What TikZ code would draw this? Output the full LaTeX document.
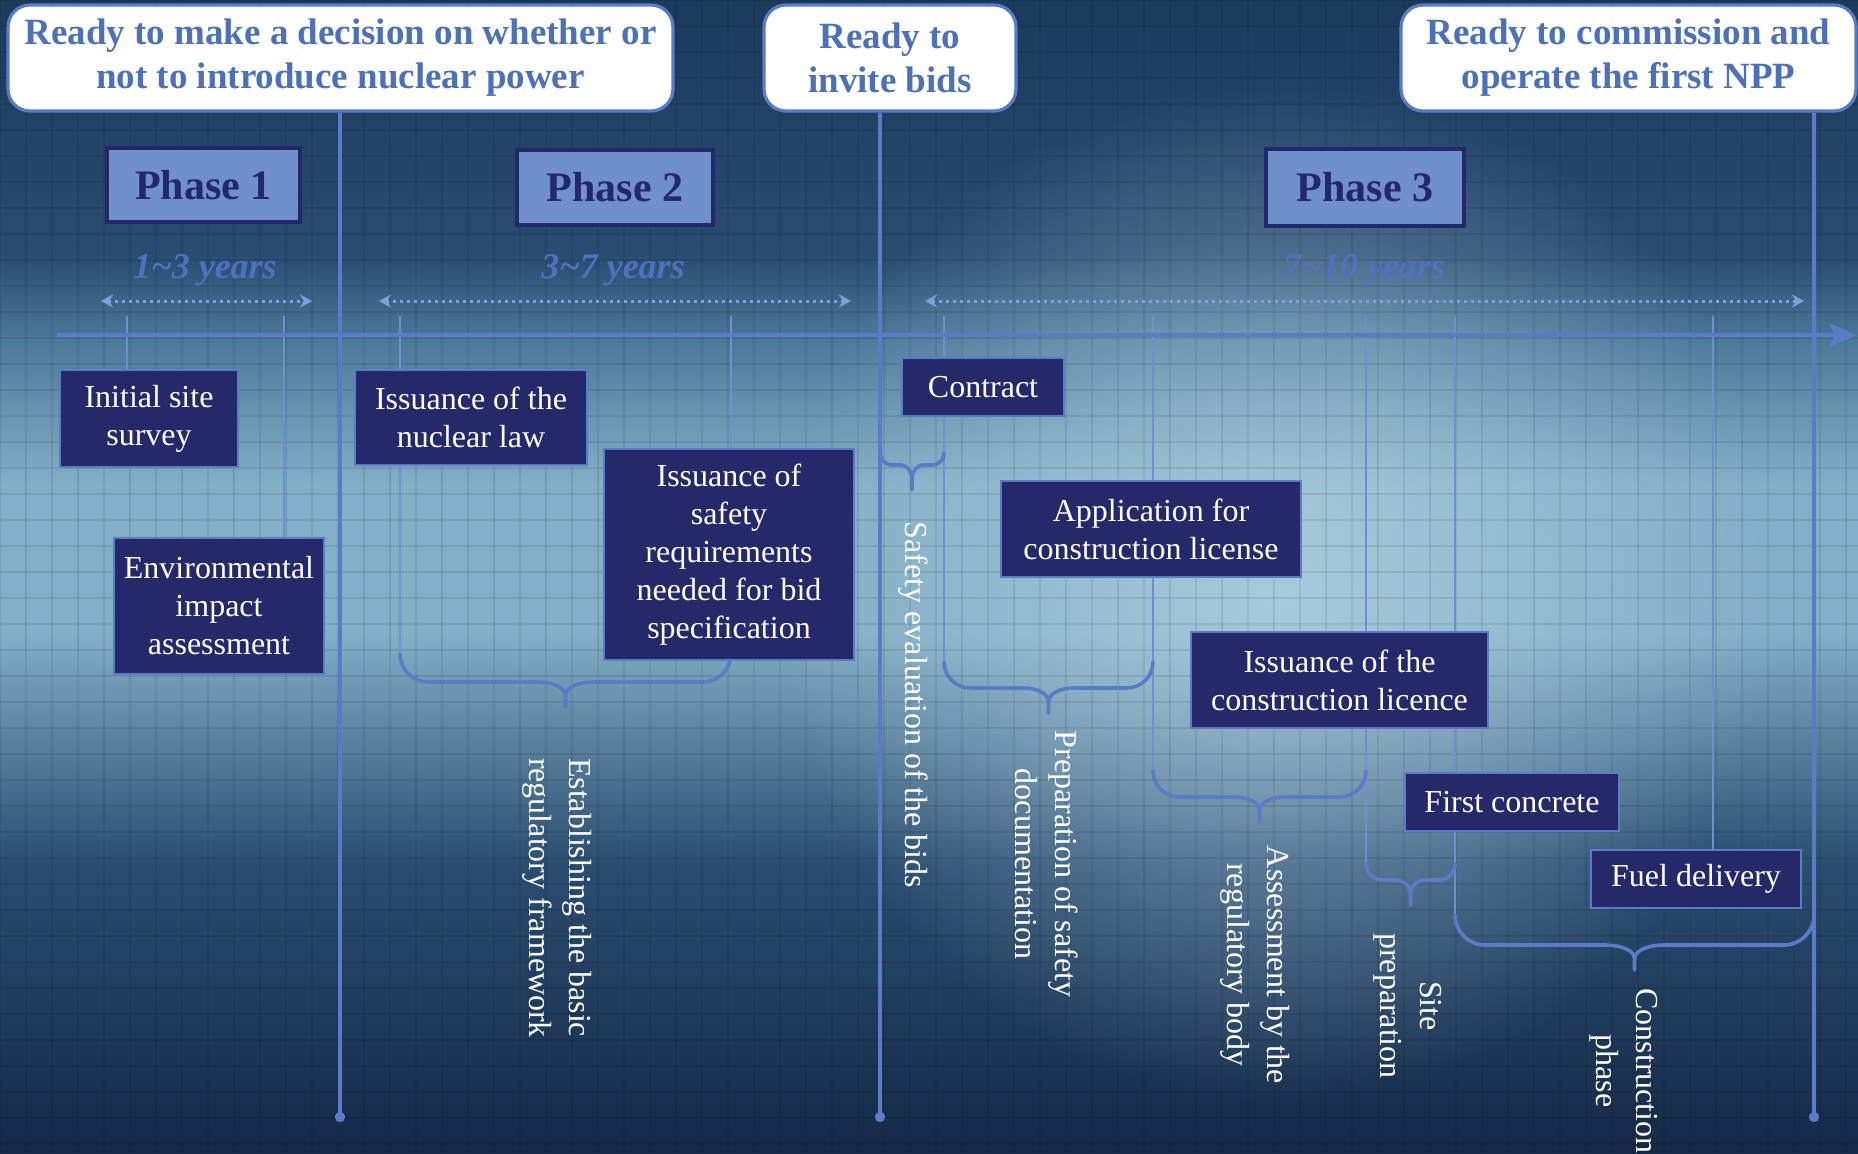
\documentclass[tikz,border=0pt]{standalone}
\usepackage{fontspec}
\setmainfont{Liberation Serif}
\usetikzlibrary{positioning, calc, arrows.meta, fadings}

\definecolor{bgtop}{HTML}{1B3A5C}
\definecolor{bgupper}{HTML}{294C70}
\definecolor{bgmid}{HTML}{4F7B9B}
\definecolor{bglight}{HTML}{82AEC6}
\definecolor{bglow}{HTML}{2A4D70}
\definecolor{bgbot}{HTML}{152947}
\definecolor{glowc}{HTML}{B8D5E4}
\definecolor{linec}{HTML}{5A7BC6}
\definecolor{tickc}{HTML}{6F8FD2}
\definecolor{spanc}{HTML}{809FDC}
\definecolor{evtc}{HTML}{25296A}
\definecolor{hdtext}{HTML}{4C71B8}
\definecolor{phfill}{HTML}{7090CA}
\definecolor{phdark}{HTML}{23286A}
\definecolor{yrtext}{HTML}{5071C0}

% path is mapped onto 25bp..75bp of the shading
\pgfdeclareverticalshading{bgshade}{100bp}{color(0bp)=(bgbot); color(25bp)=(bgbot);
  color(37.5bp)=(bglow); color(47.5bp)=(bglight); color(54bp)=(bglight); color(60bp)=(bgmid);
  color(64bp)=(bgupper); color(75bp)=(bgtop); color(100bp)=(bgtop)}

\pgfdeclarelayer{backdrop}
\pgfdeclarelayer{wires}
\pgfsetlayers{backdrop,wires,main}

\tikzfading[name=glowfade, inner color=transparent!30, outer color=transparent!100]

% curly brace under a span: left x, right x, bar y, corner radius
\newcommand{\curlybrace}[4]{%
  \draw[brc] (#1,#3-#4) .. controls (#1,#3-0.45*#4) and (#1+0.45*#4,#3) .. (#1+#4,#3)
    -- ({(#1+#2)/2-#4},#3) .. controls ({(#1+#2)/2-0.4*#4},#3) and ({(#1+#2)/2},#3+6) .. ({(#1+#2)/2},#3+14)
    -- ({(#1+#2)/2},#3+25);
  \draw[brc] (#2,#3-#4) .. controls (#2,#3-0.45*#4) and (#2-0.45*#4,#3) .. (#2-#4,#3)
    -- ({(#1+#2)/2+#4},#3) .. controls ({(#1+#2)/2+0.4*#4},#3) and ({(#1+#2)/2},#3+6) .. ({(#1+#2)/2},#3+14);
}

\begin{document}
\begin{tikzpicture}[x=0.5pt, y=-0.5pt,
    evtbox/.style={draw=linec, fill=evtc, text=white, line width=1.2pt, align=center,
      inner sep=2pt, font=\fontsize{16}{19}\selectfont},
    hdbox/.style={draw=linec, fill=white, text=hdtext, line width=1.6pt, rounded corners=11pt,
      align=center, font=\bfseries\fontsize{18.5}{22}\selectfont},
    phasebox/.style={draw=phdark, fill=phfill, text=phdark, line width=2pt,
      font=\bfseries\fontsize{21}{25}\selectfont},
    yrs/.style={text=yrtext, font=\bfseries\itshape\fontsize{18}{22}\selectfont},
    yrspan/.style={spanc, dotted, line width=1.5pt,
      {Stealth[length=6pt,width=6.5pt]}-{Stealth[length=6pt,width=6.5pt]}},
    milestone/.style={linec, line width=2.2pt},
    tickln/.style={tickc, line width=1.3pt},
    brc/.style={linec, line width=1.8pt, line cap=round},
    vlab/.style={text=white, rotate=-90, align=center, font=\fontsize{16}{20}\selectfont},
    gridln/.style={black, opacity=0.08, line width=0.8pt}]

    \useasboundingbox (0,0) rectangle (1858,1153);
    \clip (0,0) rectangle (1858,1153);

    % --- BACKGROUND ---
    \begin{pgfonlayer}{backdrop}
        \shade[shading=bgshade] (0,0) rectangle (1858,1153);
        \fill[glowc, path fading=glowfade] (780,80) rectangle (1780,1100);
        \foreach \gx in {0,26,...,1858} \draw[gridln] (\gx,0) -- (\gx,1153);
        \foreach \gy in {0,26,...,1153} \draw[gridln] (0,\gy) -- (1858,\gy);
    \end{pgfonlayer}

    % --- MILESTONES ---
    \node[hdbox, minimum width=332.5pt, minimum height=53pt] (hdA) at (340.5,58)
        {Ready to make a decision on whether or\\not to introduce nuclear power};
    \node[hdbox, minimum width=126pt, minimum height=53pt] (hdB) at (890,58)
        {Ready to\\invite bids};
    \node[hdbox, minimum width=227.5pt, minimum height=53pt] (hdC) at (1628.5,58)
        {Ready to commission and\\operate the first NPP};

    % --- PHASES ---
    \node[phasebox, minimum width=96.5pt, minimum height=37pt] (ph1) at (203.5,185) {Phase 1};
    \node[phasebox, minimum width=98pt, minimum height=37.5pt] (ph2) at (615,187.5) {Phase 2};
    \node[phasebox, minimum width=99pt, minimum height=38.5pt] (ph3) at (1365,187.5) {Phase 3};

    \node[yrs] (yr1) at (205,270) {1\textasciitilde 3 years};
    \node[yrs] (yr2) at (613,270) {3\textasciitilde 7 years};
    \node[yrs] (yr3) at (1364,270) {7\textasciitilde 10 years};

    % --- EVENTS ---
    \node[evtbox, minimum width=89pt, minimum height=48.5pt] (site) at (149,418.5)
        {Initial site\\survey};
    \node[evtbox, minimum width=105pt, minimum height=68pt] (env) at (219,606)
        {Environmental\\impact\\assessment};
    \node[evtbox, minimum width=116pt, minimum height=47.5pt] (law) at (471,417.5)
        {Issuance of the\\nuclear law};
    \node[evtbox, minimum width=125pt, minimum height=105.5pt] (safety) at (729,554.5)
        {Issuance of\\safety\\requirements\\needed for bid\\specification};
    \node[evtbox, minimum width=81pt, minimum height=29pt] (contract) at (983,387) {Contract};
    \node[evtbox, minimum width=150pt, minimum height=48pt] (applic) at (1151,529)
        {Application for\\construction license};
    \node[evtbox, minimum width=148.5pt, minimum height=48pt] (licence) at (1339.5,680)
        {Issuance of the\\construction licence};
    \node[evtbox, minimum width=107pt, minimum height=29pt] (concrete) at (1512,802)
        {First concrete};
    \node[evtbox, minimum width=105pt, minimum height=29pt] (fuel) at (1696,879)
        {Fuel delivery};

    % --- DURATION LABELS ---
    \node[vlab, align=left] (lbframe) at (557,898) {Establishing the basic\\regulatory framework};
    \node[vlab] (lbbids) at (913,705) {Safety evaluation of the bids};
    \node[vlab] (lbdoc) at (1047,864) {Preparation of safety\\documentation};
    \node[vlab] (lbassess) at (1255,965) {Assessment by the\\regulatory body};
    \node[vlab] (lbsite) at (1408,1006) {Site\\preparation};
    \node[vlab] (lbbuild) at (1624,1071) {Construction\\phase};

    % --- COORDINATES ---
    \coordinate (axL) at (57,335);
    \coordinate (axR) at (1857,335);
    \coordinate (endA) at (340,1117);
    \coordinate (endB) at (880,1117);
    \coordinate (endC) at (1814,1117);
    \coordinate (s1l) at (101,301);  \coordinate (s1r) at (312,301);
    \coordinate (s2l) at (379,301);  \coordinate (s2r) at (851,301);
    \coordinate (s3l) at (925,301);  \coordinate (s3r) at (1804,301);
    \coordinate (tk1) at (127,316);
    \coordinate (tk2) at (284,316);
    \coordinate (tk3) at (400,316);
    \coordinate (tk4) at (731,316);
    \coordinate (tk5) at (944,316);
    \coordinate (tk6) at (1153,316);
    \coordinate (tk7) at (1366,316);
    \coordinate (tk8) at (1455,316);
    \coordinate (tk9) at (1713,316);
    \coordinate (br1l) at (400,654);
    \coordinate (br1r) at (731,654);
    \coordinate (br3l) at (944,662);
    \coordinate (br4l) at (1153,771);
    \coordinate (br5l) at (1366,864);
    \coordinate (br6l) at (1455,915);

    \begin{pgfonlayer}{wires}
        % event ticks
        \draw[tickln] (tk1) -- (tk1 |- site.north);
        \draw[tickln] (tk2) -- (tk2 |- env.north);
        \draw[tickln] (tk3) -- (br1l);
        \draw[tickln] (tk4) -- (br1r);
        \draw[tickln] (tk5) -- (br3l);
        \draw[tickln] (tk6) -- (br4l);
        \draw[tickln] (tk7) -- (br5l);
        \draw[tickln] (tk8) -- (br6l);
        \draw[tickln] (tk9) -- (tk9 |- fuel.north);

        % time axis
        \draw[milestone, -{Stealth[length=14pt,width=12pt,inset=3pt]}] (axL) -- (axR);

        % milestone lines
        \draw[milestone] (endA |- hdA.south) -- (endA);
        \draw[milestone] (endB |- hdB.south) -- (endB);
        \draw[milestone] (endC |- hdC.south) -- (endC);
        \fill[linec] (endA) circle (2.6pt);
        \fill[linec] (endB) circle (2.6pt);
        \fill[linec] (endC) circle (2.6pt);

        % phase durations
        \draw[yrspan] (s1l) -- (s1r);
        \draw[yrspan] (s2l) -- (s2r);
        \draw[yrspan] (s3l) -- (s3r);

        % braces
        \curlybrace{400}{731}{682}{28}
        \curlybrace{880}{944}{465}{12}
        \curlybrace{944}{1153}{688}{26}
        \curlybrace{1153}{1366}{797}{26}
        \curlybrace{1366}{1455}{880}{16}
        \curlybrace{1455}{1814}{945}{30}
    \end{pgfonlayer}

\end{tikzpicture}
\end{document}
